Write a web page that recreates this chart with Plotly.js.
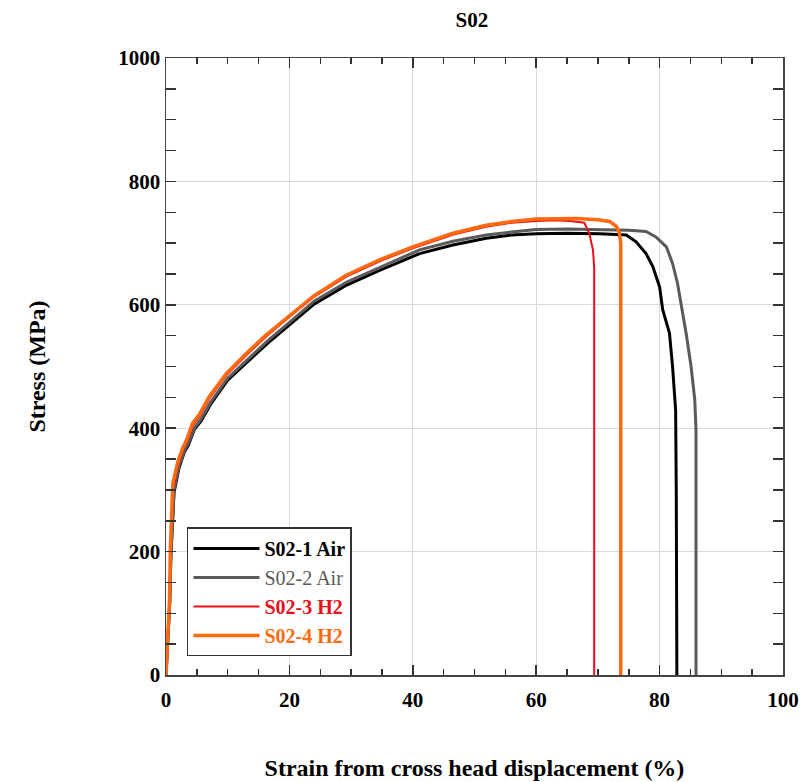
<!DOCTYPE html>
<html>
<head>
<meta charset="utf-8">
<script src="https://cdn.plot.ly/plotly-3.0.1.min.js"></script>
<style>html,body{margin:0;padding:0;background:#fff;}#chart{width:808px;height:782px;}</style>
</head>
<body>
<div id="chart"></div>
<script>
// S02-1 Air
var air1Strain = [0, 0.3, 0.6, 0.8, 1.0, 1.3, 2.1, 3.0, 3.6, 4.6, 5.7, 7.3, 10, 13.3, 16.5, 20.3, 24, 29.3, 34.7, 41.1, 46.5, 51.9, 56, 60, 65, 70.3, 74.6, 76.2, 77.8, 78.9, 80.0, 80.5, 81.6, 82.1, 82.6, 82.7, 82.8, 82.8];
var air1Stress = [0, 60, 115, 195, 245, 296, 335, 362, 372, 398, 412, 440, 478, 508, 538, 570, 601, 632, 656, 683, 697, 708, 713, 715, 716, 715, 713, 702, 683, 662, 629, 592, 554, 500, 429, 300, 100, 0];
// S02-2 Air
var air2Strain = [0, 0.3, 0.6, 0.8, 1.0, 1.3, 2.1, 3.0, 3.6, 4.6, 5.7, 7.3, 10, 13.3, 16.5, 20.3, 24, 29.3, 34.7, 41.1, 46.5, 51.9, 56, 60, 65, 70, 75, 77.8, 79.4, 81.1, 82.1, 82.9, 83.8, 84.3, 85.1, 85.7, 85.9, 85.9];
var air2Stress = [0, 62, 118, 198, 248, 300, 338, 364, 375, 400, 415, 443, 481, 512, 542, 574, 606, 637, 661, 689, 703, 713, 718, 722, 723, 722, 721, 719, 710, 694, 667, 635, 586, 554, 500, 446, 397, 0];
// S02-3 H2
var h3Strain = [0, 0.3, 0.6, 0.75, 0.9, 1.2, 2.0, 2.8, 3.4, 4.4, 5.5, 7.1, 9.9, 13.1, 16.3, 20.1, 24, 29.3, 34.7, 40.1, 43.9, 46.6, 52, 56, 60, 63, 65.5, 67.8, 68.6, 69.2, 69.4, 69.4];
var h3Stress = [0, 65, 118, 198, 250, 305, 342, 366, 378, 405, 420, 449, 487, 519, 549, 581, 613, 646, 671, 692, 705, 714, 727, 733, 736, 737, 736, 733, 716, 689, 660, 0];
// S02-4 H2
var h4Strain = [0, 0.3, 0.57, 0.7, 0.84, 1.1, 1.9, 2.7, 3.3, 4.3, 5.4, 7.0, 9.8, 13, 16.2, 20, 24, 29.2, 34.6, 40, 43.8, 46.5, 51.9, 56, 60, 63, 66.5, 70, 71.9, 73, 73.5, 73.7, 73.7];
var h4Stress = [0, 68, 122, 203, 257, 310, 345, 368, 380, 408, 422, 451, 489, 521, 551, 583, 615, 648, 673, 694, 707, 716, 729, 735, 739, 740, 740, 738, 735, 727, 716, 700, 0];

var seriesNames = ['S02-1 Air', 'S02-2 Air', 'S02-3 H2', 'S02-4 H2'];

var serif = 'Liberation Serif, Times New Roman, serif';

var traces = [
  {x: air1Strain, y: air1Stress, mode: 'lines', name: '<b><span style="color:#000000">' + seriesNames[0] + '</span></b>', line: {color: '#000000', width: 3}},
  {x: air2Strain, y: air2Stress, mode: 'lines', name: '<span style="color:#5a5a5a">' + seriesNames[1] + '</span>', line: {color: '#5a5a5a', width: 3}},
  {x: h3Strain, y: h3Stress, mode: 'lines', name: '<b><span style="color:#e8101a">' + seriesNames[2] + '</span></b>', line: {color: '#e8101a', width: 2}},
  {x: h4Strain, y: h4Stress, mode: 'lines', xaxis: 'x2', name: '<b><span style="color:#ff6a10">' + seriesNames[3] + '</span></b>', line: {color: '#ff6a10', width: 3.5}}
];

var tickFont = {family: serif, size: 21, color: '#000000', weight: 'bold'};

var layout = {
  width: 808, height: 782,
  margin: {l: 166, r: 25, t: 58, b: 107},
  paper_bgcolor: '#ffffff', plot_bgcolor: '#ffffff',
  title: {text: '<b>S02</b>', font: {family: serif, size: 21, color: '#000000'}, x: 0.584, xanchor: 'center', y: 0.975, yanchor: 'middle'},
  xaxis: {
    range: [0, 100], tickmode: 'linear', tick0: 0, dtick: 20,
    showline: true, linecolor: '#444444', linewidth: 1.5, mirror: 'allticks',
    ticks: 'inside', ticklen: 10, tickwidth: 1.5, tickcolor: '#333333',
    showgrid: true, gridcolor: '#d9d9d9', gridwidth: 1, zeroline: false,
    showticklabels: false,
    minor: {dtick: 5, tick0: 0, ticks: 'inside', ticklen: 6, tickwidth: 1.5, tickcolor: '#333333', showgrid: false}
  },
  xaxis2: {
    overlaying: 'x', anchor: 'y', side: 'bottom',
    range: [0, 100], tickmode: 'linear', tick0: 0, dtick: 20,
    showline: false, showgrid: false, zeroline: false, ticks: '',
    tickfont: tickFont, ticklabelstandoff: 10,
    title: {text: '<b>Strain from cross head displacement (%)</b>', font: {family: serif, size: 24, color: '#000000'}, standoff: 48}
  },
  yaxis: {
    range: [0, 1000], tickmode: 'linear', tick0: 0, dtick: 200,
    showline: true, linecolor: '#444444', linewidth: 1.5, mirror: 'allticks',
    ticks: 'inside', ticklen: 10, tickwidth: 1.5, tickcolor: '#333333',
    showgrid: true, gridcolor: '#d9d9d9', gridwidth: 1, zeroline: false,
    tickfont: tickFont,
    minor: {dtick: 50, tick0: 0, ticks: 'inside', ticklen: 6, tickwidth: 1.5, tickcolor: '#333333', showgrid: false},
    title: {text: '<b>Stress (MPa)</b>', font: {family: serif, size: 24, color: '#000000'}, standoff: 66}
  },
  legend: {
    x: 0.034, y: 0.03, xanchor: 'left', yanchor: 'bottom',
    bgcolor: '#ffffff', bordercolor: '#333333', borderwidth: 1.5,
    font: {family: serif, size: 20, color: '#000000'},
    itemwidth: 66, tracegroupgap: 0
  },
  showlegend: true
};

Plotly.newPlot('chart', traces, layout, {displayModeBar: false, staticPlot: true});
</script>
</body>
</html>
